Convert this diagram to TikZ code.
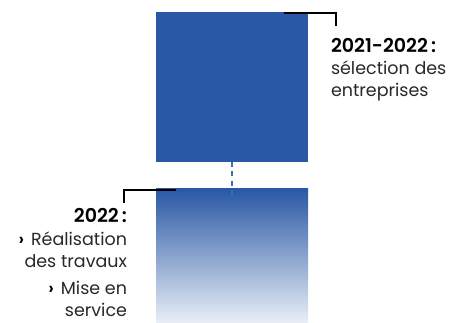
\documentclass[tikz,border=0pt]{standalone}
\usepackage{fontspec}
\setmainfont{Poppins}
\newfontfamily\boldfam{Poppins}[UprightFont=* SemiBold]
\definecolor{mainblue}{RGB}{41,88,165}
\definecolor{dashblue}{RGB}{60,108,186}
\definecolor{paleblue}{RGB}{234,239,247}
\definecolor{txt}{RGB}{40,40,40}
\newcommand{\chev}{{\boldfam\color{black}›}\hskip 7pt}
\tikzset{
  bluebox/.style={draw=none, inner sep=0pt, outer sep=0pt, minimum width=152pt, anchor=north west},
  bracket/.style={draw=black, line width=2pt},
  lbl/.style={inner sep=0pt, outer sep=0pt, font=\fontsize{17.5}{21}\selectfont, text=txt},
  hd/.style={inner sep=0pt, outer sep=0pt, font=\boldfam\fontsize{19}{21}\selectfont, text=black},
}
\begin{document}
\begin{tikzpicture}[x=1pt,y=-1pt]
\useasboundingbox (0,0) rectangle (453,323);
\node[bluebox, fill=mainblue, minimum height=150pt] (top) at (156,12) {};
\node[bluebox, top color=mainblue, bottom color=paleblue, minimum height=134pt] (bot) at (156,189) {};
\draw[dashblue, line width=2.5pt, dash pattern=on 5pt off 4.5pt] (top.south) -- ([yshift=-7pt]bot.north);
\coordinate (tr0) at (284,13);
\coordinate (tr1) at (335.5,13);
\coordinate (tr2) at (335.5,26);
\draw[bracket] (tr0) -- (tr1) -- (tr2);
\coordinate (tl0) at (176,190);
\coordinate (tl1) at (124.3,190);
\coordinate (tl2) at (124.3,203);
\draw[bracket] (tl0) -- (tl1) -- (tl2);
\node[hd, anchor=base west] (r1) at (331,53) {2021-2022\,:};
\node[lbl, anchor=base west] (r2) at (331,75) {sélection des};
\node[lbl, anchor=base west] (r3) at (331,97) {entreprises};
\node[hd, anchor=base east] (l1) at (127,223) {2022\,:};
\node[lbl, anchor=base east] (l2) at (127,246) {\chev Réalisation};
\node[lbl, anchor=base east] (l3) at (127,268) {des travaux};
\node[lbl, anchor=base east] (l4) at (127,295) {\chev Mise en};
\node[lbl, anchor=base east] (l5) at (127,317) {service};
\end{tikzpicture}
\end{document}
